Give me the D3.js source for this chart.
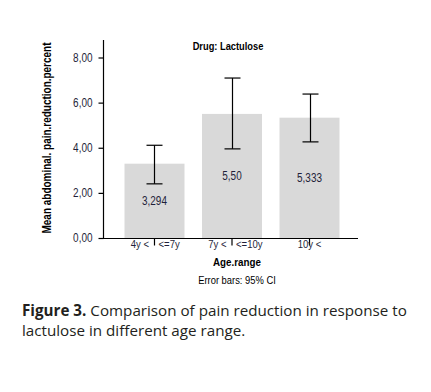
<!DOCTYPE html>
<html>
<head>
<meta charset="utf-8">
<script src="https://cdn.jsdelivr.net/npm/d3@7"></script>
<style>
  body { margin: 0; background: #fff; }
  .narrow, .narrow text { font-family: "Liberation Sans", Arial, sans-serif; }
</style>
</head>
<body>
<div id="viz"></div>
<script>
const width = 431;
const height = 392;
const margin = {top: 40, right: 73, bottom: 154, left: 103};

// Data
const ageRanges = ['4y <  <=7y', '7y <  <=10y', '10y <'];
const means = [3.294, 5.50, 5.333];
const meanLabels = ['3,294', '5,50', '5,333'];
const ciLow = [2.40, 3.95, 4.26];
const ciHigh = [4.11, 7.09, 6.38];
const yTicks = [0, 2, 4, 6, 8];

const svg = d3.select('#viz')
  .append('svg')
  .attr('width', width)
  .attr('height', height);

const baseY = height - margin.bottom; // 238

const x = d3.scaleBand()
  .domain(ageRanges)
  .range([margin.left + 1.5, width - margin.right + 1.5])
  .paddingInner(0.226)
  .paddingOuter(0.258);

const y = d3.scaleLinear()
  .domain([0, 8])
  .range([baseY, 57.5]);

const fmt = d => d.toFixed(2).replace('.', ',');
const textColor = '#1f1f3a';

// bars
svg.selectAll('rect.bar')
  .data(ageRanges)
  .join('rect')
  .attr('class', 'bar')
  .attr('x', d => x(d))
  .attr('width', x.bandwidth())
  .attr('y', (d, i) => y(means[i]))
  .attr('height', (d, i) => baseY - y(means[i]))
  .attr('fill', '#d9d9d9');

// value labels in the middle of each bar
svg.selectAll('text.val')
  .data(ageRanges)
  .join('text')
  .attr('class', 'val narrow')
  .attr('x', d => x(d) + x.bandwidth() / 2)
  .attr('y', (d, i) => (y(means[i]) + baseY) / 2)
  .attr('dy', '0.35em')
  .attr('text-anchor', 'middle')
  .attr('font-size', 12)
  .attr('fill', textColor)
  .text((d, i) => meanLabels[i]);

// error bars
const capW = 16;
const eb = svg.append('g').attr('stroke', '#000').attr('stroke-width', 1.2);
ageRanges.forEach((d, i) => {
  const cx = Math.round(x(d) + x.bandwidth() / 2) + 0.5;
  eb.append('line').attr('x1', cx).attr('x2', cx).attr('y1', y(ciLow[i])).attr('y2', y(ciHigh[i]));
  eb.append('line').attr('x1', cx - capW / 2).attr('x2', cx + capW / 2).attr('y1', y(ciLow[i])).attr('y2', y(ciLow[i]));
  eb.append('line').attr('x1', cx - capW / 2).attr('x2', cx + capW / 2).attr('y1', y(ciHigh[i])).attr('y2', y(ciHigh[i]));
});

// y axis
const yAxis = svg.append('g')
  .attr('class', 'narrow')
  .attr('transform', `translate(${margin.left + 0.5},0)`)
  .call(d3.axisLeft(y).tickValues(yTicks).tickFormat(fmt).tickSize(5).tickPadding(6).tickSizeOuter(0));
yAxis.attr('font-family', null);
yAxis.select('.domain').remove();
yAxis.append('line')
  .attr('y1', margin.top).attr('y2', baseY)
  .attr('stroke', '#000').attr('stroke-width', 1.2);
yAxis.selectAll('text')
  .attr('font-size', 12)
  .attr('fill', textColor);
yAxis.selectAll('.tick line').attr('stroke-width', 1.2);

// x axis
svg.append('line')
  .attr('x1', margin.left).attr('x2', 358)
  .attr('y1', baseY + 0.5).attr('y2', baseY + 0.5)
  .attr('stroke', '#000').attr('stroke-width', 1.2);
const xAxis = svg.append('g')
  .attr('class', 'narrow')
  .attr('transform', `translate(0,${baseY + 0.5})`)
  .call(d3.axisBottom(x).tickSize(7).tickPadding(0).tickSizeOuter(0));
xAxis.attr('font-family', null);
xAxis.select('.domain').remove();
xAxis.selectAll('.tick line').attr('stroke-width', 1.2);
// labels with two parts sit either side of the tick mark
xAxis.selectAll('.tick').each(function(d) {
  const g = d3.select(this);
  g.select('text').remove();
  const parts = d.split('  ');
  const place = parts.length === 2
    ? [[parts[0], -5.5, 'end'], [parts[1], 4, 'start']]
    : [[parts[0], 0, 'middle']];
  place.forEach(([t, dx, anchor]) => {
    g.append('text')
      .attr('x', dx).attr('y', 1).attr('dy', '0.75em')
      .attr('text-anchor', anchor)
      .attr('font-size', 11.5)
      .attr('fill', textColor)
      .text(t);
  });
});

// titles
svg.append('text')
  .attr('class', 'narrow')
  .attr('x', 228).attr('y', 46).attr('dy', '0.35em')
  .attr('text-anchor', 'middle')
  .attr('font-size', 11.2).attr('font-weight', 'bold')
  .text('Drug: Lactulose');

svg.append('text')
  .attr('class', 'narrow')
  .attr('x', 237).attr('y', 262).attr('dy', '0.35em')
  .attr('text-anchor', 'middle')
  .attr('font-size', 11.8).attr('font-weight', 'bold')
  .text('Age.range');

svg.append('text')
  .attr('class', 'narrow')
  .attr('x', 237).attr('y', 280).attr('dy', '0.35em')
  .attr('text-anchor', 'middle')
  .attr('font-size', 11.3)
  .text('Error bars: 95% CI');

svg.append('text')
  .attr('class', 'narrow')
  .attr('transform', 'translate(47,138) rotate(-90)')
  .attr('dy', '0.35em')
  .attr('text-anchor', 'middle')
  .attr('font-size', 12).attr('font-weight', 'bold')
  .text('Mean abdominal. pain.reduction.percent');

// squeeze the chart texts to look like a narrow face
svg.selectAll('text.narrow, .narrow text').each(function() {
  const w = this.getComputedTextLength();
  d3.select(this).attr('textLength', w * 0.83).attr('lengthAdjust', 'spacingAndGlyphs');
});

// figure caption
const cap = svg.append('text')
  .attr('font-family', '"Open Sans", sans-serif')
  .attr('font-size', 15.2)
  .attr('fill', '#231f20');
cap.append('tspan').attr('x', 22).attr('y', 316)
  .attr('font-weight', 'bold').text('Figure 3.');
cap.append('tspan').text(' Comparison of pain reduction in response to');
cap.append('tspan').attr('x', 22).attr('y', 335.5)
  .text('lactulose in different age range.');
</script>
</body>
</html>
